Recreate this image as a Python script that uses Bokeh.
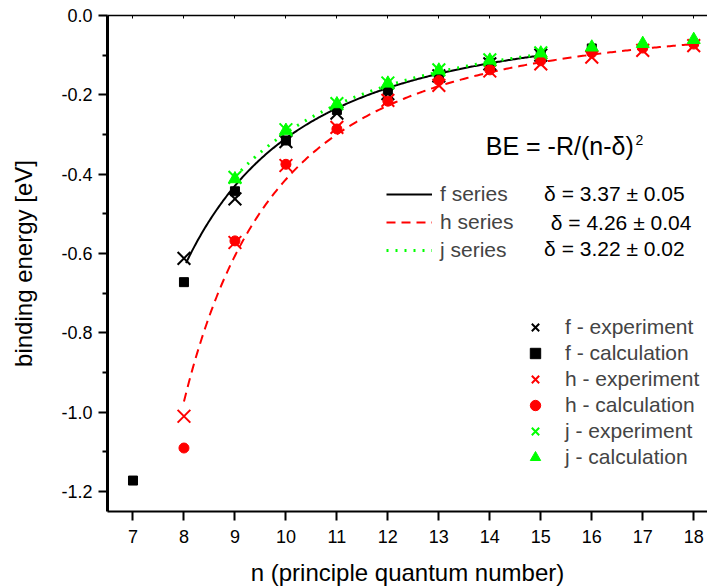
import numpy as np
from bokeh.plotting import figure
from bokeh.models import (Range1d, FixedTicker, PrintfTickFormatter, LinearAxis,
                          Legend, LegendItem, Label)
from bokeh.embed import file_html
from bokeh.resources import INLINE

# ---------------- data ----------------
n_f_exp = [8, 9, 10, 11, 12, 13, 14, 15]
f_exp = [-0.612, -0.462, -0.318, -0.246, -0.197, -0.152, -0.122, -0.100]
n_f_calc = [7, 8, 9, 10, 11, 12, 13, 14, 15, 16]
f_calc = [-1.172, -0.672, -0.443, -0.315, -0.238, -0.188, -0.150, -0.120, -0.099, -0.083]

n_h_exp = [8, 9, 10, 11, 12, 13, 14, 15, 16, 17, 18]
h_exp = [-1.010, -0.572, -0.378, -0.282, -0.214, -0.176, -0.140, -0.122, -0.105, -0.088, -0.076]
n_h_calc = [8, 9, 10, 11, 12, 13, 14, 15, 16, 17, 18]
h_calc = [-1.090, -0.568, -0.375, -0.286, -0.216, -0.164, -0.137, -0.114, -0.094, -0.082, -0.072]

n_j_exp = [9, 10, 11, 12, 13, 14, 15]
j_exp = [-0.408, -0.288, -0.222, -0.170, -0.137, -0.112, -0.094]
n_j_calc = [9, 10, 11, 12, 13, 14, 15, 16, 17, 18]
j_calc = [-0.412, -0.290, -0.223, -0.171, -0.138, -0.113, -0.095, -0.080, -0.071, -0.061]

# fit parameters shown on the chart: BE = -R/(n-delta)^2
R_eV = 13.6057
series_names = ["f series", "h series", "j series"]
deltas = [3.37, 4.26, 3.22]
delta_texts = ["\u03b4 = 3.37 \u00b1 0.05", "\u03b4 = 4.26 \u00b1 0.04", "\u03b4 = 3.22 \u00b1 0.02"]
fit_ranges = [(8.04, 15.0), (8.0, 18.0), (9.0, 15.0)]

x_ticks = [7, 8, 9, 10, 11, 12, 13, 14, 15, 16, 17, 18]
y_ticks = [0.0, -0.2, -0.4, -0.6, -0.8, -1.0, -1.2]
y_minor = [-0.1, -0.3, -0.5, -0.7, -0.9, -1.1]

FONT = "Liberation Sans"
GREEN = "#00ff00"
RED = "#ff0000"

p = figure(width=707, height=588, output_backend="svg", toolbar_location=None,
           x_range=Range1d(6.5, 18.27), y_range=Range1d(-1.25, 0.0),
           min_border_left=107, min_border_right=0, min_border_top=15, min_border_bottom=77)
p.outline_line_color = None
p.grid.visible = False
p.background_fill_color = "white"

# axes
xa = p.xaxis[0]
xa.ticker = FixedTicker(ticks=x_ticks)
xa.axis_label = "n (principle quantum number)"
ya = p.yaxis[0]
ya.ticker = FixedTicker(ticks=y_ticks, minor_ticks=y_minor)
ya.formatter = PrintfTickFormatter(format="%.1f")
ya.axis_label = "binding energy [eV]"
for ax in (xa, ya):
    ax.axis_label_text_font = FONT
    ax.axis_label_text_font_size = "24px"
    ax.axis_label_text_font_style = "normal"
    ax.axis_label_text_color = "black"
    ax.major_label_text_font = FONT
    ax.major_label_text_font_size = "18px"
    ax.major_label_text_color = "black"
    ax.axis_line_color = "black"
    ax.major_tick_line_color = "black"
    ax.major_tick_line_width = 2
    ax.major_tick_in = 0
    ax.major_tick_out = 9
    ax.minor_tick_line_color = "black"
    ax.minor_tick_line_width = 2
    ax.minor_tick_in = 0
    ax.minor_tick_out = 5
xa.axis_line_width = 2
ya.axis_line_width = 3
xa.minor_tick_line_color = None
xa.major_label_standoff = 9
xa.axis_label_standoff = 13
ya.major_label_standoff = 6
ya.axis_label_standoff = 21

top = LinearAxis(ticker=FixedTicker(ticks=x_ticks), major_label_text_font_size="0px",
                 major_label_standoff=0, major_tick_in=3, major_tick_out=0,
                 minor_tick_line_color=None, axis_line_width=1.5)
p.add_layout(top, "above")

# fit curves
line_styles = [dict(line_color="black", line_width=2, line_dash="solid"),
               dict(line_color=RED, line_width=2, line_dash="9 6"),
               dict(line_color=GREEN, line_width=3, line_dash="2 7")]
fit_renderers = []
for d, (a, b), st in zip(deltas, fit_ranges, line_styles):
    nn = np.linspace(a, b, 300)
    fit_renderers.append(p.line(nn, -R_eV / (nn - d) ** 2, **st))

# markers
r_fe = p.scatter(n_f_exp, f_exp, marker="x", size=18, line_color="black", line_width=2)
r_fc = p.scatter(n_f_calc, f_calc, marker="square", size=9, fill_color="black", line_color="black")
r_he = p.scatter(n_h_exp, h_exp, marker="x", size=18, line_color=RED, line_width=2)
r_hc = p.scatter(n_h_calc, h_calc, marker="circle", size=10, fill_color=RED, line_color=RED)
r_je = p.scatter(n_j_exp, j_exp, marker="x", size=18, line_color=GREEN, line_width=2)
r_jc = p.scatter(n_j_calc, j_calc, marker="triangle", size=13, fill_color=GREEN, line_color=GREEN)

# legend of fits
leg1 = Legend(items=[LegendItem(label=s, renderers=[r]) for s, r in zip(series_names, fit_renderers)],
              location=(279, 249), padding=0, margin=0, spacing=4,
              glyph_width=46, glyph_height=22, label_height=22, label_standoff=8,
              label_text_font=FONT, label_text_font_size="21px",
              border_line_color=None, background_fill_alpha=0)
p.add_layout(leg1)

leg2 = Legend(items=[LegendItem(label="f - experiment", renderers=[r_fe]),
                     LegendItem(label="f - calculation", renderers=[r_fc]),
                     LegendItem(label="h - experiment", renderers=[r_he]),
                     LegendItem(label="h - calculation", renderers=[r_hc]),
                     LegendItem(label="j - experiment", renderers=[r_je]),
                     LegendItem(label="j - calculation", renderers=[r_jc])],
              location=(415, 41), padding=0, margin=0, spacing=0,
              glyph_width=26, glyph_height=26, label_height=20, label_standoff=17,
              label_text_font=FONT, label_text_font_size="21px",
              border_line_color=None, background_fill_alpha=0)
p.add_layout(leg2)

# delta annotations
delta_x = [15.065, 15.196, 15.065]
delta_y = [-0.4495, -0.521, -0.588]
for t, xx, yy in zip(delta_texts, delta_x, delta_y):
    p.add_layout(Label(x=xx, y=yy, text=t, text_font=FONT, text_font_size="21px",
                       text_baseline="middle", text_align="left", text_color="black"))

p.add_layout(Label(x=13.92, y=-0.3277, text="BE = -R/(n-\u03b4)", text_font=FONT,
                   text_font_size="25px", text_baseline="middle", text_align="left",
                   text_color="black"))
p.add_layout(Label(x=16.86, y=-0.302, text="2", text_font=FONT, text_font_size="14px",
                   text_baseline="top", text_align="left", text_color="black"))

open("out.html", "w").write(file_html(p, INLINE))
